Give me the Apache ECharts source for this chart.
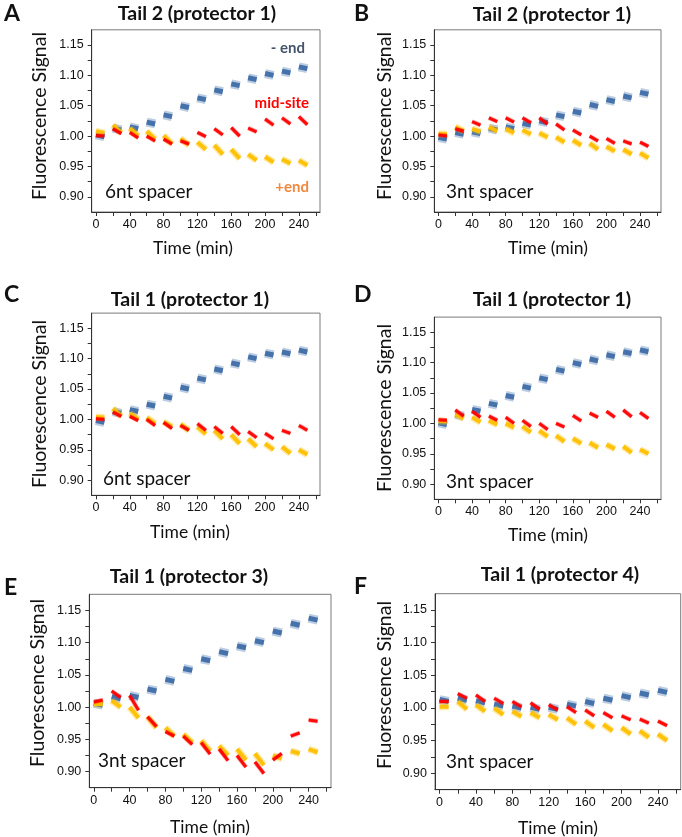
<!DOCTYPE html>
<html>
<head>
<meta charset="utf-8">
<script src="https://cdn.jsdelivr.net/npm/echarts@6/dist/echarts.min.js"></script>
<style>
html,body{margin:0;padding:0;background:#fff;}
#chart{width:682px;height:837px;}
</style>
</head>
<body>
<div id="chart"></div>
<script>
// ---- data ----
const times = [0, 20, 40, 60, 80, 100, 120, 140, 160, 180, 200, 220, 240];
const segmentMinutes = 10;
const xTickLabels = [0, 40, 80, 120, 160, 200, 240];
const yTickLabels = [0.90, 0.95, 1.00, 1.05, 1.10, 1.15];

// each entry: [value at segment start, value at segment end]
const A_minus = [[1.002,0.999],[1.013,1.010],[1.015,1.012],[1.023,1.020],[1.035,1.032],[1.050,1.047],[1.063,1.060],[1.076,1.073],[1.086,1.083],[1.096,1.093],[1.103,1.100],[1.107,1.104],[1.114,1.111]];
const A_mid   = [[1.001,1.000],[1.012,1.004],[1.006,0.997],[1.000,0.992],[0.995,0.987],[0.992,0.987],[1.006,0.999],[1.012,1.002],[1.014,1.000],[1.013,1.007],[1.028,1.018],[1.030,1.020],[1.032,1.019]];
const A_plus  = [[1.008,1.005],[1.018,1.005],[1.013,1.000],[1.008,0.995],[1.001,0.987],[0.996,0.985],[0.990,0.978],[0.985,0.970],[0.978,0.963],[0.970,0.960],[0.966,0.957],[0.962,0.955],[0.960,0.952]];

const B_minus = [[0.998,0.995],[1.006,1.003],[1.007,1.004],[1.013,1.010],[1.015,1.012],[1.021,1.018],[1.025,1.022],[1.035,1.032],[1.041,1.038],[1.052,1.049],[1.060,1.057],[1.066,1.063],[1.072,1.069]];
const B_mid   = [[1.002,1.000],[1.012,1.008],[1.024,1.018],[1.030,1.024],[1.030,1.023],[1.030,1.022],[1.030,1.020],[1.020,1.010],[1.010,1.002],[1.000,0.992],[0.996,0.988],[0.992,0.987],[0.990,0.983]];
const B_plus  = [[1.004,1.003],[1.015,1.008],[1.012,1.007],[1.015,1.008],[1.012,1.005],[1.010,1.003],[1.005,0.998],[0.998,0.990],[0.993,0.985],[0.988,0.978],[0.983,0.975],[0.978,0.970],[0.972,0.964]];

const C_minus = [[0.998,0.995],[1.013,1.010],[1.016,1.013],[1.025,1.022],[1.038,1.035],[1.053,1.050],[1.068,1.065],[1.083,1.080],[1.093,1.090],[1.103,1.100],[1.109,1.106],[1.111,1.108],[1.114,1.111]];
const C_mid   = [[1.001,1.000],[1.012,1.005],[1.005,0.998],[1.000,0.990],[0.995,0.985],[0.990,0.982],[0.993,0.982],[0.988,0.977],[0.988,0.975],[0.980,0.970],[0.977,0.968],[0.982,0.977],[0.990,0.982]];
const C_plus  = [[1.004,1.003],[1.018,1.005],[1.010,1.000],[1.003,0.993],[0.996,0.988],[0.992,0.982],[0.988,0.976],[0.982,0.968],[0.975,0.960],[0.968,0.955],[0.960,0.950],[0.955,0.944],[0.950,0.942]];

const D_minus = [[1.001,0.998],[1.015,1.012],[1.023,1.020],[1.033,1.030],[1.046,1.043],[1.061,1.058],[1.075,1.072],[1.089,1.086],[1.100,1.097],[1.106,1.103],[1.113,1.110],[1.118,1.115],[1.121,1.118]];
const D_mid   = [[1.006,1.005],[1.022,1.012],[1.020,1.010],[1.012,1.005],[1.010,1.000],[1.005,0.995],[1.000,0.990],[1.000,0.994],[1.013,1.004],[1.017,1.010],[1.020,1.010],[1.022,1.011],[1.018,1.008]];
const D_plus  = [[1.004,1.003],[1.015,1.008],[1.010,1.002],[1.005,0.998],[1.000,0.993],[0.995,0.985],[0.988,0.978],[0.980,0.970],[0.975,0.967],[0.968,0.960],[0.965,0.958],[0.962,0.952],[0.957,0.950]];

const E_minus = [[1.006,1.003],[1.016,1.013],[1.018,1.015],[1.028,1.025],[1.043,1.040],[1.060,1.057],[1.075,1.072],[1.086,1.083],[1.095,1.092],[1.103,1.100],[1.118,1.115],[1.130,1.127],[1.138,1.135]];
const E_mid   = [[1.008,1.011],[1.025,1.015],[1.018,0.995],[0.985,0.970],[0.962,0.955],[0.955,0.942],[0.945,0.927],[0.935,0.917],[0.925,0.907],[0.915,0.897],[0.918,0.928],[0.955,0.960],[0.980,0.978]];
const E_plus  = [[1.005,1.005],[1.010,1.000],[1.000,0.983],[0.985,0.968],[0.968,0.955],[0.958,0.945],[0.948,0.932],[0.940,0.925],[0.935,0.918],[0.928,0.910],[0.925,0.920],[0.932,0.928],[0.935,0.930]];

const F_minus = [[1.013,1.010],[1.015,1.012],[1.011,1.008],[1.006,1.003],[1.003,1.000],[1.001,0.998],[1.001,0.998],[1.006,1.003],[1.010,1.007],[1.015,1.012],[1.019,1.016],[1.023,1.020],[1.027,1.024]];
const F_mid   = [[1.010,1.010],[1.022,1.015],[1.020,1.010],[1.015,1.007],[1.010,1.002],[1.008,0.998],[1.005,0.997],[1.002,0.993],[0.997,0.988],[0.993,0.985],[0.988,0.982],[0.983,0.977],[0.980,0.973]];
const F_plus  = [[1.002,1.002],[1.010,0.998],[1.005,0.995],[1.000,0.990],[0.995,0.987],[0.993,0.985],[0.990,0.982],[0.985,0.975],[0.980,0.970],[0.975,0.965],[0.970,0.960],[0.965,0.955],[0.960,0.950]];

const panelTitles = ['Tail 2 (protector 1)','Tail 2 (protector 1)','Tail 1 (protector 1)','Tail 1 (protector 1)','Tail 1 (protector 3)','Tail 1 (protector 4)'];
const panelLetters = ['A','B','C','D','E','F'];
const spacerNotes = ['6nt spacer','3nt spacer','6nt spacer','3nt spacer','3nt spacer','3nt spacer'];
const panelData = [[A_minus,A_mid,A_plus],[B_minus,B_mid,B_plus],[C_minus,C_mid,C_plus],[D_minus,D_mid,D_plus],[E_minus,E_mid,E_plus],[F_minus,F_mid,F_plus]];

// ---- layout / style ----
const grids = [
  {left:91.7, top:29.8, width:228.3, height:182.2},
  {left:434.3, top:29.8, width:226.7, height:182.2},
  {left:91.7, top:313.1, width:228.3, height:182.2},
  {left:434.3, top:317.1, width:226.7, height:182.2},
  {left:89.3, top:594.3, width:241.7, height:193.4},
  {left:435, top:593.7, width:245.7, height:196}
];
const titlePos = [[197,14],[552,15],[190,300],[552,300],[189,577],[560,575]];
const letterPos = [[4,14],[354,14],[4,295],[354,295],[4,588],[354,587]];
const yNamePos = [[40,116],[385,116],[40,404],[385,408],[38,683],[385,685]];
const xNamePos = [[193,248],[548,248],[190,532],[548,535],[210,827],[558,828]];
const notePos = [[105,192],[446,192],[103,479],[446,482],[98,761],[446,762]];

// colour order: -end (blue), +end (yellow), mid-site (red)
const seriesColors = ['#3e6da8', '#ffc000', '#ff0000'];
const coreWidths = [5, 4, 3];
const haloWidths = [9, 7, 4.5];

function segments(pairs) {
  const d = [];
  pairs.forEach((p, i) => {
    d.push([times[i], p[0]]);
    d.push([times[i] + segmentMinutes, p[1]]);
    d.push([times[i] + segmentMinutes, null]);
  });
  return d;
}

const xTicks = [];
for (let v = 0; v <= 260; v += 20) xTicks.push(v);
const yTicks = [];
for (let k = 36; k <= 46; k++) yTicks.push(+(k * 0.025).toFixed(3));

const tickFont = 'Liberation Sans, Arial, sans-serif';
const textFont = 'Lato, Carlito, Calibri, sans-serif';

const option = {
  animation: false,
  backgroundColor: '#fff',
  grid: grids.map(g => Object.assign({show:true, borderColor:'#7a7a7a', borderWidth:1, backgroundColor:'transparent', containLabel:false, outerBoundsMode:'none'}, g)),
  xAxis: grids.map((g, i) => ({
    type:'value', gridIndex:i, min:-5, max:265,
    axisLine:{show:true, onZero:false, lineStyle:{color:'#333', width:1}},
    axisTick:{show:true, inside:false, length:4, customValues:xTicks, lineStyle:{color:'#333'}},
    axisLabel:{show:true, customValues:xTickLabels, margin:6, fontSize:12.5, color:'#111', fontFamily:tickFont},
    splitLine:{show:false}
  })),
  yAxis: grids.map((g, i) => ({
    type:'value', gridIndex:i, min:0.875, max:1.175,
    axisLine:{show:true, onZero:false, lineStyle:{color:'#333', width:1}},
    axisTick:{show:true, inside:false, length:4, customValues:yTicks, lineStyle:{color:'#333'}},
    axisLabel:{show:true, customValues:yTickLabels, margin:8, fontSize:12.5, color:'#111', fontFamily:tickFont,
      formatter: v => v.toFixed(2)},
    splitLine:{show:false}
  })),
  series: [],
  graphic: []
};

panelData.forEach((trio, p) => {
  // draw order: blue (-end), yellow (+end), red (mid-site)
  [0, 2, 1].forEach(s => {
    const c = s === 0 ? 0 : (s === 2 ? 1 : 2);
    const data = segments(trio[s]);
    option.series.push({
      type:'line', xAxisIndex:p, yAxisIndex:p, data:data,
      symbol:'none', silent:true, connectNulls:false,
      lineStyle:{color:seriesColors[c], width:haloWidths[c], cap:'butt', opacity:0.35}
    });
    option.series.push({
      type:'line', xAxisIndex:p, yAxisIndex:p, data:data,
      symbol:'none', silent:true, connectNulls:false,
      lineStyle:{color:seriesColors[c], width:coreWidths[c], cap:'butt', opacity:0.95}
    });
  });
  option.graphic.push(
    {type:'text', x:titlePos[p][0], y:titlePos[p][1], style:{text:panelTitles[p], fontSize:19.5, fontWeight:'bold', fontFamily:textFont, fill:'#111', align:'center', verticalAlign:'middle', textAlign:'center', textVerticalAlign:'middle'}},
    {type:'text', x:letterPos[p][0], y:letterPos[p][1], style:{text:panelLetters[p], fontSize:23, fontWeight:'bold', fontFamily:textFont, fill:'#111', align:'left', verticalAlign:'middle', textAlign:'left', textVerticalAlign:'middle'}},
    {type:'text', x:yNamePos[p][0], y:yNamePos[p][1], rotation:Math.PI/2, style:{text:'Fluorescence Signal', fontSize:19.5, fontFamily:textFont, fill:'#111', align:'center', verticalAlign:'middle', textAlign:'center', textVerticalAlign:'middle'}},
    {type:'text', x:xNamePos[p][0], y:xNamePos[p][1], style:{text:'Time (min)', fontSize:17.5, fontFamily:textFont, fill:'#111', align:'center', verticalAlign:'middle', textAlign:'center', textVerticalAlign:'middle'}},
    {type:'text', x:notePos[p][0], y:notePos[p][1], style:{text:spacerNotes[p], fontSize:19, fontFamily:textFont, fill:'#111', align:'left', verticalAlign:'middle', textAlign:'left', textVerticalAlign:'middle'}}
  );
});

// series labels in panel A
option.graphic.push(
  {type:'text', x:305, y:48, style:{text:'- end', fontSize:15, fontWeight:'bold', fontFamily:textFont, fill:'#44546a', align:'right', verticalAlign:'middle', textAlign:'right', textVerticalAlign:'middle'}},
  {type:'text', x:309, y:103, style:{text:'mid-site', fontSize:15, fontWeight:'bold', fontFamily:textFont, fill:'#ff0000', align:'right', verticalAlign:'middle', textAlign:'right', textVerticalAlign:'middle'}},
  {type:'text', x:309, y:187, style:{text:'+end', fontSize:15, fontWeight:'bold', fontFamily:textFont, fill:'#f0883e', align:'right', verticalAlign:'middle', textAlign:'right', textVerticalAlign:'middle'}}
);

const chart = echarts.init(document.getElementById('chart'), null, {renderer:'canvas'});
chart.setOption(option);
</script>
</body>
</html>
